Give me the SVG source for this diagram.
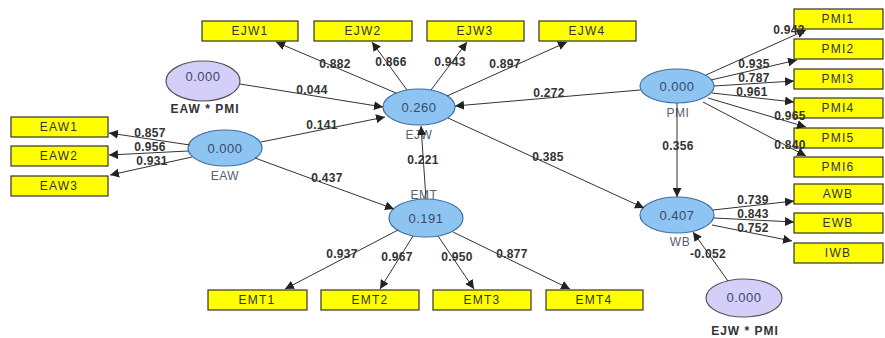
<svg xmlns="http://www.w3.org/2000/svg" width="885" height="338" viewBox="0 0 885 338">
<style>
.box{fill:#ffff00;stroke:#333;stroke-width:1.2}
.btxt{font-family:"Liberation Sans",Arial,sans-serif;font-size:12px;letter-spacing:1.2px;fill:#333;text-anchor:middle}
.lv{fill:#8ec4f2;stroke:#3f6f9f;stroke-width:1.2}
.iv{fill:#d4cff8;stroke:#555;stroke-width:1.2}
.val{font-family:"Liberation Sans",Arial,sans-serif;font-size:13px;letter-spacing:0.5px;fill:#3a4a6a;text-anchor:middle}
.nl{font-family:"Liberation Sans",Arial,sans-serif;font-size:12px;letter-spacing:0.5px;fill:#556070;text-anchor:middle}
.nlb{font-family:"Liberation Sans",Arial,sans-serif;font-size:12px;letter-spacing:1px;font-weight:bold;fill:#333;text-anchor:middle}
.c{font-family:"Liberation Sans",Arial,sans-serif;font-size:12px;letter-spacing:0.3px;font-weight:bold;fill:#333;text-anchor:middle}
.ln{stroke:#333;stroke-width:1;fill:none;marker-end:url(#ah)}
</style>
<defs>
<marker id="ah" viewBox="0 0 10 10" refX="10" refY="5" markerWidth="9" markerHeight="9" markerUnits="userSpaceOnUse" orient="auto">
<path d="M0,0 L10,5 L0,10 z" fill="#222"/>
</marker>
</defs>
<rect width="885" height="338" fill="#fff"/>
<g id="EJW1"><rect class="box" x="202" y="21" width="96" height="20"/><text class="btxt" x="250" y="35">EJW1</text></g>
<g id="EJW2"><rect class="box" x="314" y="21" width="98" height="20"/><text class="btxt" x="363" y="35">EJW2</text></g>
<g id="EJW3"><rect class="box" x="427" y="21" width="97" height="20"/><text class="btxt" x="475" y="35">EJW3</text></g>
<g id="EJW4"><rect class="box" x="539" y="21" width="97" height="20"/><text class="btxt" x="587" y="35">EJW4</text></g>
<g id="EAW1"><rect class="box" x="11" y="117" width="97" height="20"/><text class="btxt" x="59" y="131">EAW1</text></g>
<g id="EAW2"><rect class="box" x="11" y="146" width="97" height="20"/><text class="btxt" x="59" y="160">EAW2</text></g>
<g id="EAW3"><rect class="box" x="11" y="176" width="97" height="20"/><text class="btxt" x="59" y="190">EAW3</text></g>
<g id="PMI1"><rect class="box" x="794" y="9" width="89" height="20"/><text class="btxt" x="838" y="23">PMI1</text></g>
<g id="PMI2"><rect class="box" x="794" y="39" width="89" height="20"/><text class="btxt" x="838" y="53">PMI2</text></g>
<g id="PMI3"><rect class="box" x="794" y="69" width="89" height="20"/><text class="btxt" x="838" y="83">PMI3</text></g>
<g id="PMI4"><rect class="box" x="794" y="98" width="89" height="20"/><text class="btxt" x="838" y="112">PMI4</text></g>
<g id="PMI5"><rect class="box" x="794" y="128" width="89" height="20"/><text class="btxt" x="838" y="142">PMI5</text></g>
<g id="PMI6"><rect class="box" x="794" y="157" width="89" height="20"/><text class="btxt" x="838" y="171">PMI6</text></g>
<g id="AWB"><rect class="box" x="794" y="184" width="89" height="20"/><text class="btxt" x="838" y="198">AWB</text></g>
<g id="EWB"><rect class="box" x="794" y="213" width="89" height="20"/><text class="btxt" x="838" y="227">EWB</text></g>
<g id="IWB"><rect class="box" x="794" y="243" width="89" height="20"/><text class="btxt" x="838" y="257">IWB</text></g>
<g id="EMT1"><rect class="box" x="208" y="290" width="99" height="20"/><text class="btxt" x="257" y="304">EMT1</text></g>
<g id="EMT2"><rect class="box" x="321" y="290" width="98" height="20"/><text class="btxt" x="370" y="304">EMT2</text></g>
<g id="EMT3"><rect class="box" x="433" y="290" width="98" height="20"/><text class="btxt" x="482" y="304">EMT3</text></g>
<g id="EMT4"><rect class="box" x="546" y="290" width="97" height="20"/><text class="btxt" x="594" y="304">EMT4</text></g>
<g id="EJW"><ellipse class="lv" cx="419" cy="107" rx="36" ry="18"/><text class="val" x="419" y="112">0.260</text><text class="nl" x="419" y="139">EJW</text></g>
<g id="EAW"><ellipse class="lv" cx="225" cy="148" rx="37" ry="18"/><text class="val" x="225" y="153">0.000</text><text class="nl" x="225" y="180">EAW</text></g>
<g id="PMI"><ellipse class="lv" cx="677" cy="86" rx="37" ry="17"/><text class="val" x="677" y="91">0.000</text><text class="nl" x="678" y="117">PMI</text></g>
<g id="WB"><ellipse class="lv" cx="677" cy="215" rx="37" ry="18"/><text class="val" x="677" y="220">0.407</text><text class="nl" x="680" y="246">WB</text></g>
<g id="EMT"><ellipse class="lv" cx="426" cy="218" rx="37" ry="19"/><text class="val" x="426" y="223">0.191</text><text class="nl" x="424" y="199">EMT</text></g>
<g id="EAW_PMI"><ellipse class="iv" cx="203" cy="81" rx="37" ry="20"/><text class="val" x="203" y="81">0.000</text><text class="nlb" x="205" y="113">EAW * PMI</text></g>
<g id="EJW_PMI"><ellipse class="iv" cx="744" cy="298" rx="38" ry="19"/><text class="val" x="744" y="302">0.000</text><text class="nlb" x="745" y="335">EJW * PMI</text></g>
<g id="connectors">
<line class="ln" x1="396" y1="93" x2="276" y2="42"/>
<line class="ln" x1="407" y1="90" x2="372" y2="42"/>
<line class="ln" x1="431" y1="90" x2="467" y2="42"/>
<line class="ln" x1="447" y1="96" x2="567" y2="42"/>
<line class="ln" x1="240" y1="84" x2="383" y2="107"/>
<line class="ln" x1="261" y1="142" x2="385" y2="117"/>
<line class="ln" x1="640" y1="90" x2="455" y2="106"/>
<line class="ln" x1="426" y1="199" x2="421" y2="126"/>
<line class="ln" x1="448" y1="118" x2="644" y2="208"/>
<line class="ln" x1="255" y1="158" x2="394" y2="209"/>
<line class="ln" x1="190" y1="145" x2="109" y2="133"/>
<line class="ln" x1="188" y1="151" x2="109" y2="155"/>
<line class="ln" x1="192" y1="157" x2="110" y2="175"/>
<line class="ln" x1="706" y1="75" x2="806" y2="30"/>
<line class="ln" x1="711" y1="80" x2="797" y2="60"/>
<line class="ln" x1="714" y1="86" x2="794" y2="81"/>
<line class="ln" x1="712" y1="93" x2="794" y2="102"/>
<line class="ln" x1="708" y1="98" x2="806" y2="127"/>
<line class="ln" x1="703" y1="102" x2="806" y2="156"/>
<line class="ln" x1="677" y1="103" x2="677" y2="197"/>
<line class="ln" x1="713" y1="210" x2="794" y2="201"/>
<line class="ln" x1="714" y1="218" x2="794" y2="222"/>
<line class="ln" x1="712" y1="225" x2="792" y2="241"/>
<line class="ln" x1="728" y1="281" x2="693" y2="232"/>
<line class="ln" x1="398" y1="230" x2="285" y2="289"/>
<line class="ln" x1="413" y1="236" x2="380" y2="289"/>
<line class="ln" x1="438" y1="236" x2="474" y2="289"/>
<line class="ln" x1="453" y1="232" x2="570" y2="289"/>
</g>
<g id="coefficients">
<text class="c" x="335" y="68">0.882</text>
<text class="c" x="391" y="66">0.866</text>
<text class="c" x="450" y="66">0.943</text>
<text class="c" x="505" y="68">0.897</text>
<text class="c" x="312" y="94">0.044</text>
<text class="c" x="322" y="129">0.141</text>
<text class="c" x="549" y="97">0.272</text>
<text class="c" x="423" y="164">0.221</text>
<text class="c" x="548" y="161">0.385</text>
<text class="c" x="327" y="182">0.437</text>
<text class="c" x="150" y="137">0.857</text>
<text class="c" x="150" y="151">0.956</text>
<text class="c" x="152" y="165">0.931</text>
<text class="c" x="789" y="34">0.942</text>
<text class="c" x="754" y="68">0.935</text>
<text class="c" x="754" y="82">0.787</text>
<text class="c" x="752" y="96">0.961</text>
<text class="c" x="790" y="120">0.965</text>
<text class="c" x="790" y="149">0.840</text>
<text class="c" x="678" y="150">0.356</text>
<text class="c" x="753" y="204">0.739</text>
<text class="c" x="753" y="218">0.843</text>
<text class="c" x="753" y="232">0.752</text>
<text class="c" x="708" y="258">-0.052</text>
<text class="c" x="342" y="258">0.937</text>
<text class="c" x="397" y="261">0.967</text>
<text class="c" x="457" y="261">0.950</text>
<text class="c" x="512" y="258">0.877</text>
</g>
</svg>
